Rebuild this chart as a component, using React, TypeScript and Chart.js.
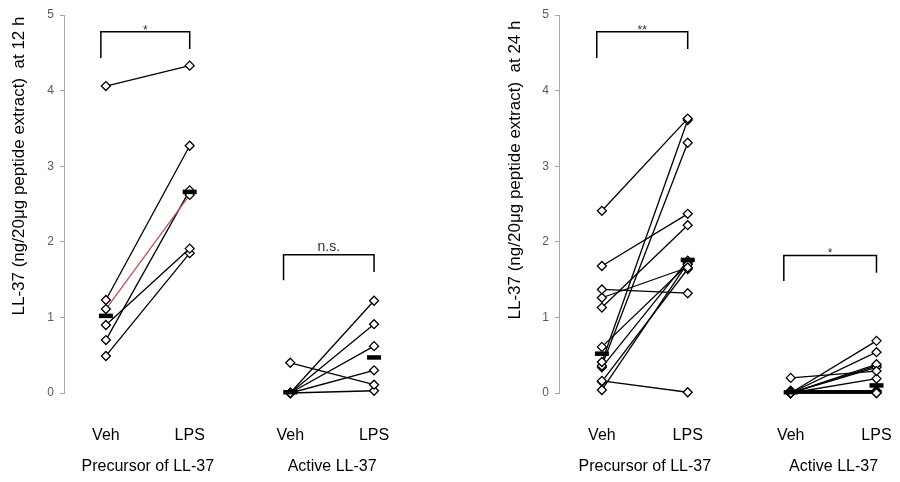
import React, { useEffect, useRef } from 'react';
import { Chart, registerables } from 'chart.js';

Chart.register(...registerables);

// ---------- shared labels ----------
const TICK_LABELS = ['Veh', 'LPS', 'Veh', 'LPS'];
const GROUP_LABELS = ['Precursor of LL-37', 'Active LL-37'];
const X_POS = [1, 2, 3.2, 4.2];
const Y_TICKS = [0, 1, 2, 3, 4, 5];

// ---------- 12 h ----------
const TITLE_12 = 'LL-37 (ng/20μg peptide extract)  at 12 h';
const pre12Veh = [4.06, 1.23, 1.11, 0.9, 0.7, 0.49];
const pre12Lps = [4.33, 3.27, 2.62, 1.91, 2.68, 1.85];
const act12Veh = [0.4, 0.0, 0.0, 0.0, 0.0, 0.0];
const act12Lps = [0.11, 1.22, 0.91, 0.62, 0.3, 0.03];
const med12 = [1.02, 2.66, 0.01, 0.47];
const red12 = [2]; // precursor pair drawn in red
const sig12 = ['*', 'n.s.'];
const brTop12 = [4.78, 1.83];
const brLeftEnd12 = [4.43, 1.49];
const brRightEnd12 = [4.55, 1.6];

// ---------- 24 h ----------
const TITLE_24 = 'LL-37 (ng/20μg peptide extract)  at 24 h';
const pre24Veh = [2.41, 1.68, 1.37, 1.26, 1.13, 0.61, 0.41, 0.36, 0.34, 0.16, 0.15, 0.04];
const pre24Lps = [3.63, 2.37, 1.32, 1.66, 2.22, 1.7, 3.61, 3.31, 1.75, 0.01, 1.64, 1.72];
const act24Veh = [0.2, 0.0, 0.0, 0.0, 0.0, 0.0, 0.0, 0.0, 0.01, 0.02, 0.03, 0.0];
const act24Lps = [0.29, 0.69, 0.54, 0.38, 0.34, 0.19, 0.36, 0.0, 0.01, 0.02, 0.03, 0.0];
const med24 = [0.52, 1.76, 0.01, 0.1];
const red24: number[] = [];
const sig24 = ['**', '*'];
const brTop24 = [4.78, 1.82];
const brLeftEnd24 = [4.43, 1.48];
const brRightEnd24 = [4.55, 1.59];

const BRACKET_X = [
  [0.94, 2.0],
  [3.12, 4.2],
];

const FONT = "Arial, 'Liberation Sans', sans-serif";

type PanelProps = {
  title: string;
  preVeh: number[];
  preLps: number[];
  actVeh: number[];
  actLps: number[];
  med: number[];
  red: number[];
  sig: string[];
  brTop: number[];
  brLeftEnd: number[];
  brRightEnd: number[];
  left: number;
  width: number;
  axisWidth: number;
  padRight: number;
  xMax: number;
  titleX: number;
  titleY: number;
};

function Panel(p: PanelProps) {
  const ref = useRef<HTMLCanvasElement>(null);
  useEffect(() => {
    if (!ref.current) return;
    const datasets: any[] = [];
    datasets.push({
      type: 'scatter',
      data: p.med.map((v, i) => ({ x: X_POS[i], y: v })),
      pointStyle: 'line',
      pointRadius: 7,
      pointBorderWidth: 4.5,
      pointBorderColor: '#000',
      pointBackgroundColor: '#000',
      showLine: false,
      order: 0,
      clip: false,
    });
    const groups = [
      [p.preVeh, p.preLps],
      [p.actVeh, p.actLps],
    ];
    groups.forEach((g, gi) => {
      g[0].forEach((v, i) => {
        const isRed = gi === 0 && p.red.includes(i);
        datasets.push({
          type: 'line',
          data: [
            { x: X_POS[gi * 2], y: v },
            { x: X_POS[gi * 2 + 1], y: g[1][i] },
          ],
          borderColor: isRed ? '#C0504D' : '#000',
          borderWidth: 1.3,
          pointStyle: 'rectRot',
          pointRadius: 4.5,
          pointBackgroundColor: '#fff',
          pointBorderColor: '#000',
          pointBorderWidth: 1.3,
          order: 1,
          clip: false,
        });
      });
    });

    const annot = {
      id: 'annot',
      afterDraw(chart: any) {
        const ctx = chart.ctx;
        const xs = chart.scales.x;
        const ys = chart.scales.y;
        ctx.save();
        // brackets + significance
        for (let g = 0; g < 2; g++) {
          const xL = xs.getPixelForValue(BRACKET_X[g][0]);
          const xR = xs.getPixelForValue(BRACKET_X[g][1]);
          const yT = ys.getPixelForValue(p.brTop[g]);
          const yL = ys.getPixelForValue(p.brLeftEnd[g]);
          const yR = ys.getPixelForValue(p.brRightEnd[g]);
          ctx.strokeStyle = '#000';
          ctx.lineWidth = 1.5;
          ctx.beginPath();
          ctx.moveTo(xL, yL);
          ctx.lineTo(xL, yT);
          ctx.lineTo(xR, yT);
          ctx.lineTo(xR, yR);
          ctx.stroke();
          const s = p.sig[g];
          ctx.fillStyle = '#333';
          ctx.textAlign = 'center';
          ctx.textBaseline = 'alphabetic';
          ctx.font = (s === 'n.s.' ? '14px ' : '12px ') + FONT;
          ctx.fillText(s, (xL + xR) / 2, s === 'n.s.' ? yT - 4 : yT + 2);
        }
        ctx.fillStyle = '#000';
        ctx.textAlign = 'center';
        ctx.textBaseline = 'middle';
        // category labels
        ctx.font = '16px ' + FONT;
        X_POS.forEach((v, i) => {
          ctx.fillText(TICK_LABELS[i], xs.getPixelForValue(v), 436);
        });
        // group labels
        for (let g = 0; g < 2; g++) {
          const cx = (xs.getPixelForValue(X_POS[g * 2]) + xs.getPixelForValue(X_POS[g * 2 + 1])) / 2;
          ctx.fillText(GROUP_LABELS[g], cx, 467);
        }
        // y title
        ctx.translate(p.titleX, p.titleY);
        ctx.rotate(-Math.PI / 2);
        ctx.font = '17px ' + FONT;
        ctx.fillText(p.title, 0, 0);
        ctx.restore();
      },
    };

    const chart = new Chart(ref.current, {
      type: 'line',
      data: { datasets },
      options: {
        animation: false,
        responsive: false,
        maintainAspectRatio: false,
        layout: { padding: { top: 15, left: 0, right: p.padRight, bottom: 0 } },
        plugins: { legend: { display: false }, tooltip: { enabled: false } },
        scales: {
          x: {
            type: 'linear',
            min: 0.5,
            max: p.xMax,
            afterBuildTicks: (s: any) => {
              s.ticks = X_POS.map((v) => ({ value: v }));
            },
            afterFit: (s: any) => {
              s.height = 89;
            },
            ticks: { display: false },
            grid: { display: false, drawTicks: false },
            border: { display: false },
          },
          y: {
            type: 'linear',
            min: 0,
            max: 5,
            afterBuildTicks: (s: any) => {
              s.ticks = Y_TICKS.map((v) => ({ value: v }));
            },
            afterFit: (s: any) => {
              s.width = p.axisWidth;
            },
            ticks: {
              padding: 6,
              color: '#595959',
              font: { family: FONT, size: 12 },
            },
            grid: { drawOnChartArea: false, tickLength: 4, color: '#a6a6a6' },
            border: { color: '#a6a6a6', width: 1 },
          },
        },
      },
      plugins: [annot],
    } as any);
    return () => chart.destroy();
  }, []);
  return (
    <canvas
      ref={ref}
      width={p.width}
      height={482}
      style={{ position: 'absolute', left: p.left, top: 0, width: p.width, height: 482 }}
    />
  );
}

export default function App() {
  return (
    <div style={{ position: 'fixed', left: 0, top: 0, width: 900, height: 482, background: '#fff', overflow: 'hidden' }}>
      <Panel
        title={TITLE_12}
        preVeh={pre12Veh}
        preLps={pre12Lps}
        actVeh={act12Veh}
        actLps={act12Lps}
        med={med12}
        red={red12}
        sig={sig12}
        brTop={brTop12}
        brLeftEnd={brLeftEnd12}
        brRightEnd={brRightEnd12}
        left={0}
        width={410}
        axisWidth={64}
        padRight={15}
        xMax={4.45}
        titleX={19}
        titleY={166}
      />
      <Panel
        title={TITLE_24}
        preVeh={pre24Veh}
        preLps={pre24Lps}
        actVeh={act24Veh}
        actLps={act24Lps}
        med={med24}
        red={red24}
        sig={sig24}
        brTop={brTop24}
        brLeftEnd={brLeftEnd24}
        brRightEnd={brRightEnd24}
        left={450}
        width={450}
        axisWidth={109}
        padRight={0}
        xMax={4.34}
        titleX={65}
        titleY={170}
      />
    </div>
  );
}
